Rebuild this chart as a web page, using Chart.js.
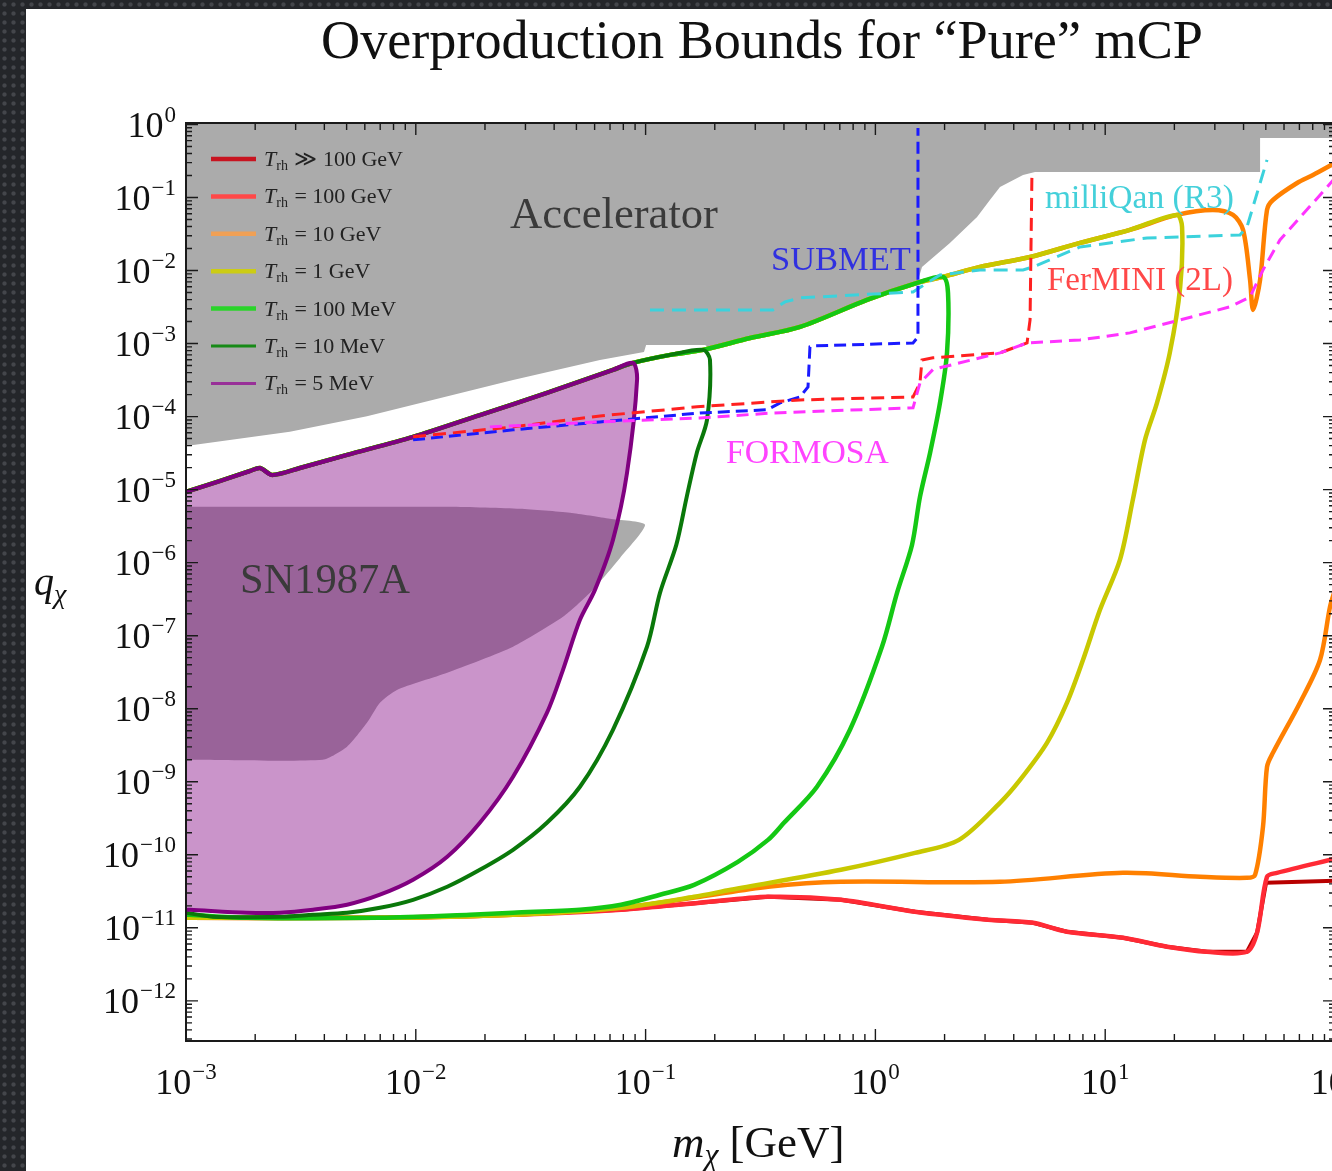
<!DOCTYPE html>
<html><head><meta charset="utf-8">
<script src="https://cdn.jsdelivr.net/npm/chart.js@4.4.1/dist/chart.umd.min.js"></script>
<style>
html,body{margin:0;padding:0;overflow:hidden;width:1332px;height:1171px;}
body{background-color:#24262a;background-image:radial-gradient(circle,#44464b 1.6px,transparent 2.6px);background-size:9px 9px;}
#panel{position:absolute;left:26px;top:9px;width:1400px;height:1300px;background:#fff;}
#c{position:absolute;left:0;top:0;}
</style></head>
<body><div id="panel"></div><canvas id="c" width="1345" height="1171"></canvas>
<script>
// ---------- axis ranges & tick labels ----------
const X_MIN = 1e-3, X_MAX = 100, Y_MIN = 2.82e-13, Y_MAX = 1.047;
const xTickValues = [1e-3, 1e-2, 1e-1, 1, 10, 100];
const xTickExps = ['\u22123', '\u22122', '\u22121', '0', '1', '2'];
const yTickValues = [1, 1e-1, 1e-2, 1e-3, 1e-4, 1e-5, 1e-6, 1e-7, 1e-8, 1e-9, 1e-10, 1e-11, 1e-12];
const yTickExps = ['0', '\u22121', '\u22122', '\u22123', '\u22124', '\u22125', '\u22126', '\u22127', '\u22128', '\u22129', '\u221210', '\u221211', '\u221212'];

// ---------- upper envelope shared by all T_rh contours ----------
const envX = [1.00e-3, 1.41e-3, 1.90e-3, 2.10e-3, 2.37e-3, 3.13e-3, 5.02e-3, 9.73e-3, 1.90e-2, 3.72e-2, 7.21e-2, 8.81e-2, 0.128, 0.178, 0.285, 0.470, 0.919, 1.52, 1.97, 2.85, 4.71, 7.77, 12.8, 20.5, 29.4, 36.0, 39.8, 42.7, 44.0, 47.2, 50.6, 53.7, 68.4, 80.2, 100];
const envY = [9.31e-6, 1.32e-5, 1.80e-5, 1.98e-5, 1.59e-5, 1.98e-5, 2.99e-5, 5.28e-5, 1.05e-4, 2.11e-4, 4.36e-4, 5.43e-4, 7.00e-4, 8.19e-4, 1.19e-3, 1.69e-3, 3.96e-3, 6.77e-3, 8.17e-3, 1.12e-2, 1.53e-2, 2.39e-2, 3.60e-2, 5.77e-2, 6.76e-2, 5.77e-2, 3.60e-2, 7.43e-3, 2.89e-3, 7.43e-3, 6.76e-2, 9.25e-2, 0.158, 0.203, 0.297];

// ---------- descending branches (turning point -> bottom -> left edge) ----------
const purpleX = [9.18e-2, 8.30e-2, 7.21e-2, 6.02e-2, 5.18e-2, 4.37e-2, 3.72e-2, 2.65e-2, 1.90e-2, 1.37e-2, 9.73e-3, 6.98e-3, 5.02e-3, 3.57e-3, 2.57e-3, 1.84e-3, 1.04e-3, 1.00e-3];
const purpleY = [3.18e-4, 1.69e-5, 2.05e-6, 4.24e-7, 1.65e-7, 3.41e-8, 8.78e-9, 1.17e-9, 2.74e-10, 9.39e-11, 4.55e-11, 2.84e-11, 2.07e-11, 1.77e-11, 1.61e-11, 1.61e-11, 1.77e-11, 1.77e-11];

const dkGreenX = [0.1906, 0.185, 0.167, 0.151, 0.136, 0.1155, 0.1014, 7.21e-2, 5.18e-2, 3.72e-2, 2.65e-2, 1.90e-2, 1.37e-2, 9.73e-3, 6.98e-3, 5.02e-3, 3.57e-3, 2.57e-3, 1.31e-3, 1.00e-3];
const dkGreenY = [5.97e-4, 9.02e-5, 3.18e-5, 7.96e-6, 1.75e-6, 3.86e-7, 7.05e-8, 5.15e-9, 8.55e-10, 2.74e-10, 1.17e-10, 6.23e-11, 3.65e-11, 2.42e-11, 1.88e-11, 1.61e-11, 1.51e-11, 1.42e-11, 1.42e-11, 1.61e-11];

const greenX = [2.070, 2.049, 1.910, 1.729, 1.563, 1.443, 1.242, 1.068, 0.775, 0.557, 0.400, 0.341, 0.252, 0.1626, 0.1155, 7.82e-2, 5.18e-2, 2.65e-2, 1.72e-2, 6.98e-3, 1.84e-3, 1.04e-3, 1.00e-3];
const greenY = [4.93e-3, 7.45e-4, 1.54e-4, 3.18e-5, 7.96e-6, 1.75e-6, 3.86e-7, 7.05e-8, 5.15e-9, 8.55e-10, 2.74e-10, 1.60e-10, 8.01e-11, 3.88e-11, 2.84e-11, 2.07e-11, 1.77e-11, 1.61e-11, 1.51e-11, 1.37e-11, 1.37e-11, 1.51e-11, 1.51e-11];

const yellowX = [21.6, 21.2, 19.1, 16.8, 14.9, 13.2, 11.6, 9.49, 8.01, 6.82, 5.58, 4.26, 3.485, 2.311, 1.487, 0.708, 0.235, 0.1626, 7.82e-2, 2.65e-2, 6.98e-3, 1.00e-3];
const yellowY = [3.95e-2, 5.96e-3, 7.45e-4, 1.54e-4, 4.80e-5, 7.35e-6, 1.10e-6, 2.26e-7, 4.68e-8, 1.21e-8, 3.41e-9, 1.06e-9, 5.15e-10, 1.60e-10, 1.06e-10, 6.23e-11, 3.32e-11, 2.66e-11, 1.88e-11, 1.51e-11, 1.37e-11, 1.37e-11];

const orangeX = [100, 95.1, 86.1, 70.4, 53.7, 50.6, 48.6, 44.9, 41.4, 25.9, 11.95, 3.485, 0.708, 0.341, 0.1725, 7.82e-2, 2.65e-2, 6.98e-3, 1.00e-3];
const orangeY = [4.24e-7, 2.48e-7, 4.68e-8, 1.21e-8, 2.49e-9, 1.60e-9, 2.42e-10, 5.32e-11, 4.84e-11, 5.00e-11, 5.66e-11, 4.27e-11, 4.27e-11, 3.65e-11, 2.66e-11, 1.88e-11, 1.51e-11, 1.37e-11, 1.37e-11];

const redX = [1.00e-3, 6.98e-3, 2.65e-2, 7.82e-2, 0.1725, 0.341, 0.708, 1.487, 3.09, 4.85, 6.82, 11.95, 18.6, 27.7, 41.4, 45.8, 50.6, 55.9, 100];
const redY = [1.37e-11, 1.37e-11, 1.51e-11, 1.77e-11, 2.20e-11, 2.66e-11, 2.42e-11, 1.66e-11, 1.29e-11, 1.17e-11, 8.83e-12, 7.31e-12, 5.51e-12, 4.70e-12, 4.70e-12, 8.55e-12, 5.00e-11, 5.66e-11, 8.81e-11];
const dkRedTailX = [50.1, 100];
const dkRedTailY = [4.13e-11, 4.41e-11];

// ---------- excluded regions ----------
const accelX = [1.00e-3, 2.83e-3, 6.13e-3, 2.65e-2, 6.33e-2, 9.84e-2, 0.1005, 0.1814, 0.1945, 0.285, 0.470, 0.919, 1.52, 1.595, 2.11, 2.77, 3.15, 3.485, 4.39, 4.95, 47.2, 47.2, 100];
const accelY = [3.97e-5, 6.18e-5, 1.01e-4, 3.18e-4, 5.97e-4, 7.69e-4, 9.59e-4, 9.59e-4, 8.45e-4, 1.19e-3, 1.69e-3, 3.96e-3, 6.77e-3, 1.12e-2, 2.39e-2, 5.42e-2, 9.26e-2, 0.1394, 0.2036, 0.224, 0.224, 0.653, 0.653];
const snX = [1.00e-3, 1.41e-2, 2.84e-2, 4.69e-2, 7.00e-2, 9.94e-2, 7.74e-2, 5.73e-2, 4.37e-2, 2.65e-2, 1.37e-2, 8.28e-3, 6.98e-3, 6.13e-3, 5.02e-3, 3.94e-3, 1.00e-3];
const snY = [5.81e-6, 5.81e-6, 5.45e-6, 4.81e-6, 3.98e-6, 3.30e-6, 1.16e-6, 3.86e-7, 1.81e-7, 7.05e-8, 3.10e-8, 1.81e-8, 1.21e-8, 6.41e-9, 3.01e-9, 2.00e-9, 2.00e-9];

// ---------- projected sensitivities (dashed) ----------
const milliQanX = [0.1045, 0.358, 0.404, 0.470, 1.458, 1.910, 2.85, 4.39, 4.85, 7.77, 15.2, 38.6, 41.4, 50.6];
const milliQanY = [2.89e-3, 2.89e-3, 3.72e-3, 4.22e-3, 5.09e-3, 8.71e-3, 1.02e-2, 1.02e-2, 1.12e-2, 2.10e-2, 2.79e-2, 3.07e-2, 3.95e-2, 0.327];
const submetX = [9.73e-3, 2.65e-2, 6.33e-2, 0.1725, 0.3375, 0.385, 0.470, 0.509, 0.519, 0.546, 1.458, 1.532, 1.532];
const submetY = [4.80e-5, 6.58e-5, 8.46e-5, 1.12e-4, 1.24e-4, 1.54e-4, 1.86e-4, 2.55e-4, 9.00e-4, 9.29e-4, 1.02e-3, 1.23e-3, 0.895];
const ferminiX = [9.73e-3, 2.65e-2, 6.33e-2, 0.1674, 0.470, 1.458, 1.563, 1.595, 1.781, 3.485, 4.57, 4.71, 4.80];
const ferminiY = [5.28e-5, 7.23e-5, 1.02e-4, 1.36e-4, 1.69e-4, 1.86e-4, 2.89e-4, 5.97e-4, 6.37e-4, 7.45e-4, 1.02e-3, 2.11e-3, 0.217];
const formosaX = [2.10e-2, 6.33e-2, 0.1725, 0.358, 1.458, 1.563, 1.781, 3.485, 4.57, 7.77, 12.8, 21.2, 34.9, 42.7, 48.6, 57.6, 80.2, 100];
const formosaY = [7.23e-5, 8.46e-5, 9.60e-5, 1.12e-4, 1.32e-4, 2.89e-4, 4.42e-4, 7.45e-4, 1.02e-3, 1.12e-3, 1.40e-3, 2.11e-3, 3.18e-3, 4.35e-3, 1.02e-2, 2.62e-2, 8.42e-2, 0.185];

// ---------- legend ----------
const legendLabels = ['\u226B 100 GeV', '= 100 GeV', '= 10 GeV', '= 1 GeV', '= 100 MeV', '= 10 MeV', '= 5 MeV'];
const legendColors = ['#c81420', '#ff4848', '#f0a055', '#cccc14', '#2ad42a', '#178a17', '#983098'];

// ---------- build point tables ----------
const pts = (xs, ys) => xs.map((x, i) => ({x, y: ys[i]}));
const contour = (bx, by) => pts(envX, envY).filter(p => p.x < bx[0]).concat(pts(bx, by));
const darkRed = pts(redX, redY).filter(p => p.x < dkRedTailX[0]).concat(pts(dkRedTailX, dkRedTailY));

const SERIF = '"Liberation Serif", "DejaVu Serif", serif';

const solid = (label, data, color, w, order, tension = 0.3) => ({label, data, showLine: true, borderColor: color, borderWidth: w,
  pointRadius: 0, fill: false, order, tension, borderJoinStyle: 'round', borderCapStyle: 'round'});
const dashed = (label, data, color, dash, order) => ({label, data, showLine: true, borderColor: color, borderWidth: 3,
  borderDash: dash, pointRadius: 0, fill: false, order});

const datasets = [
  {label: 'Accelerator', data: pts(accelX, accelY), showLine: true, borderWidth: 0, borderColor: 'rgba(0,0,0,0)',
   backgroundColor: '#ababab', fill: 'end', pointRadius: 0, order: 30},
  {label: 'SN1987A', data: pts(snX, snY), showLine: true, borderWidth: 0, borderColor: 'rgba(0,0,0,0)',
   backgroundColor: '#ababab', fill: 'shape', pointRadius: 0, order: 29, tension: 0.2},
  solid('Trh >> 100 GeV', darkRed, '#b80000', 4, 20, 0),
  solid('Trh = 100 GeV', pts(redX, redY), '#ff2a35', 4.5, 19),
  solid('Trh = 10 GeV (upper)', pts(envX, envY), '#ff8000', 4.5, 18),
  solid('Trh = 10 GeV (lower)', pts(orangeX, orangeY), '#ff8000', 4.5, 17),
  solid('Trh = 1 GeV', contour(yellowX, yellowY), '#c8c800', 4.5, 16),
  solid('Trh = 100 MeV', contour(greenX, greenY), '#14c814', 4.5, 15),
  solid('Trh = 10 MeV', contour(dkGreenX, dkGreenY), '#0a780a', 4, 14),
  Object.assign(solid('Trh = 5 MeV', contour(purpleX, purpleY), '#800080', 4, 13),
    {fill: 'shape', backgroundColor: 'rgba(128,0,128,0.42)'}),
  dashed('milliQan (R3)', pts(milliQanX, milliQanY), '#3cd2dc', [14, 8], 4),
  dashed('SUBMET', pts(submetX, submetY), '#1a1aff', [12, 6], 3),
  dashed('FerMINI (2L)', pts(ferminiX, ferminiY), '#ff2020', [13, 7], 2),
  dashed('FORMOSA', pts(formosaX, formosaY), '#ff33ff', [12, 7], 1)
];

function fitSize(ctx, text, width, style) {
  ctx.font = style + ' 100px ' + SERIF;
  return 100 * width / ctx.measureText(text).width;
}
function drawPow(ctx, exp, x, baseY, align) {
  ctx.font = '36px ' + SERIF; const wb = ctx.measureText('10').width;
  ctx.font = '23px ' + SERIF; const we = ctx.measureText(exp).width;
  const total = wb + we + 1;
  const x0 = align === 'center' ? x - total / 2 : x - total;
  ctx.font = '36px ' + SERIF; ctx.fillText('10', x0, baseY);
  ctx.font = '23px ' + SERIF; ctx.fillText(exp, x0 + wb + 1, baseY - 15);
}

const decor = {
  id: 'decor',
  afterDraw(chart) {
    const {ctx, chartArea: a} = chart;
    const xs = chart.scales.x, ys = chart.scales.y;
    ctx.save();
    // frame
    ctx.strokeStyle = '#1a1a1a'; ctx.lineWidth = 2;
    ctx.strokeRect(a.left, a.top, a.right - a.left, a.bottom - a.top);
    // inward ticks on all four sides
    ctx.lineWidth = 1.4; ctx.beginPath();
    for (let e = -3; e < 2; e++) for (let m = 1; m < 10; m++) {
      const px = xs.getPixelForValue(m * Math.pow(10, e)); const len = m === 1 ? 12 : 7;
      ctx.moveTo(px, a.bottom); ctx.lineTo(px, a.bottom - len);
      ctx.moveTo(px, a.top); ctx.lineTo(px, a.top + len);
    }
    for (let e = -13; e <= 0; e++) for (let m = 1; m < 10; m++) {
      const v = m * Math.pow(10, e); if (v < Y_MIN || v > Y_MAX) continue;
      const py = ys.getPixelForValue(v); const len = m === 1 ? 12 : 6;
      ctx.moveTo(a.left, py); ctx.lineTo(a.left + len, py);
      ctx.moveTo(a.right, py); ctx.lineTo(a.right - len, py);
    }
    ctx.stroke();
    // tick labels
    ctx.fillStyle = '#111'; ctx.textBaseline = 'alphabetic'; ctx.textAlign = 'left';
    xTickValues.forEach((v, i) => drawPow(ctx, xTickExps[i], xs.getPixelForValue(v), 1094, 'center'));
    yTickValues.forEach((v, i) => drawPow(ctx, yTickExps[i], 176, ys.getPixelForValue(v) + 12.5, 'right'));
    // axis titles
    const s = 45;
    ctx.font = 'italic ' + s + 'px ' + SERIF; ctx.fillText('m', 672, 1157);
    let w1 = ctx.measureText('m').width;
    ctx.font = 'italic ' + (s * 0.7) + 'px ' + SERIF; ctx.fillText('\u03C7', 672 + w1, 1165);
    const w2 = ctx.measureText('\u03C7').width;
    ctx.font = s + 'px ' + SERIF; ctx.fillText(' [GeV]', 672 + w1 + w2, 1157);
    ctx.font = 'italic 40px ' + SERIF; ctx.fillText('q', 34, 595);
    w1 = ctx.measureText('q').width;
    ctx.font = 'italic 28px ' + SERIF; ctx.fillText('\u03C7', 34 + w1, 603);
    // title
    const title = 'Overproduction Bounds for \u201CPure\u201D mCP';
    ctx.font = fitSize(ctx, title, 882, '') + 'px ' + SERIF; ctx.fillText(title, 321, 58);
    // region / experiment annotations
    const notes = [
      ['Accelerator', 510, 228, 208, '#3a3a3a'], ['SUBMET', 771, 270, 140, '#3030e0'],
      ['milliQan (R3)', 1045, 208, 189, '#44d0da'], ['FerMINI (2L)', 1047, 290, 186, '#ff4848'],
      ['FORMOSA', 726, 463, 163, '#ff44ff'], ['SN1987A', 240, 593, 170, '#3a3a3a']
    ];
    notes.forEach(([t, x, y, w, c]) => {
      ctx.fillStyle = c; ctx.font = fitSize(ctx, t, w, '') + 'px ' + SERIF; ctx.fillText(t, x, y);
    });
    // legend
    legendLabels.forEach((lab, i) => {
      const yy = 159 + i * 37.4;
      ctx.strokeStyle = legendColors[i]; ctx.lineWidth = i >= 5 ? 3 : 4.5; ctx.setLineDash([]);
      ctx.beginPath(); ctx.moveTo(211, yy); ctx.lineTo(256, yy); ctx.stroke();
      ctx.fillStyle = '#222';
      ctx.font = 'italic 22px ' + SERIF; ctx.fillText('T', 264, yy + 7);
      const wt = ctx.measureText('T').width;
      ctx.font = '14px ' + SERIF; ctx.fillText('rh', 264 + wt, yy + 11);
      const wr = ctx.measureText('rh').width;
      ctx.font = '22px ' + SERIF; ctx.fillText(' ' + lab, 264 + wt + wr + 1, yy + 7);
    });
    ctx.restore();
  }
};

new Chart(document.getElementById('c'), {
  type: 'scatter',
  data: {datasets},
  options: {
    responsive: false, animation: false, events: [],
    layout: {padding: {left: 186, top: 123, right: 10, bottom: 130}},
    scales: {
      x: {type: 'logarithmic', min: X_MIN, max: X_MAX, display: false},
      y: {type: 'logarithmic', min: Y_MIN, max: Y_MAX, display: false}
    },
    plugins: {legend: {display: false}, tooltip: {enabled: false}, title: {display: false}}
  },
  plugins: [decor]
});
</script></body></html>
